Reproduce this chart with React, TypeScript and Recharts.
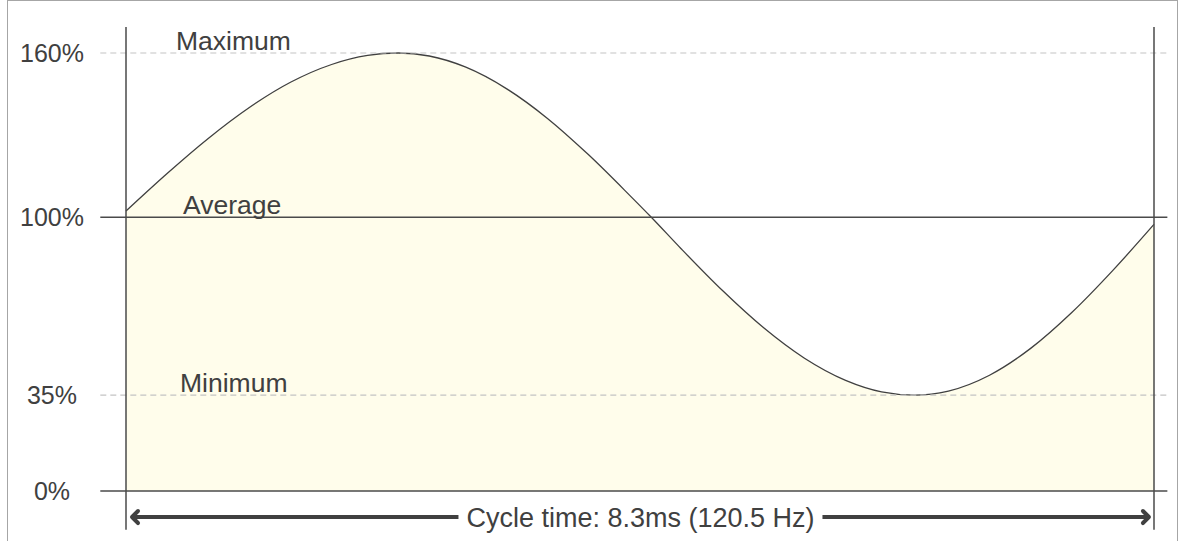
import { ComposedChart, Area, XAxis, YAxis, ReferenceLine } from 'recharts';

// position within one cycle, percent of 8.3ms
const cyclePos = [0, 4, 8, 12, 16, 20, 23.5, 26.5, 29.5, 33, 37, 41, 45, 49, 51.1, 54, 58, 62, 66, 70, 73.5, 76.7, 80, 84, 88, 92, 96, 100];
// light output relative to average
const output = [102.3, 116, 128.8, 140.1, 149.3, 155.8, 159.1, 160, 158.9, 154.9, 147, 136.1, 122.8, 108, 100, 88.5, 73.3, 59.7, 48.5, 40.4, 36.2, 35, 36.5, 42.3, 52.1, 65.2, 80.6, 97.4];
const yTicks = [0, 35, 100, 160];

const levelLabels = [
  { y: 160, text: 'Maximum', x: 176, dashed: true },
  { y: 100, text: 'Average', x: 183, dashed: false },
  { y: 35, text: 'Minimum', x: 180, dashed: true },
  { y: 0, text: '', x: 0, dashed: false },
];

const cycleText = 'Cycle time: 8.3ms (120.5 Hz)';

const data = cyclePos.map((x, i) => ({ x, v: output[i] }));

const FONT = '"Liberation Sans", Arial, sans-serif';
const INK = '#404040';

function YTick(props: any) {
  return (
    <text x={52} y={props.y} dy="0.355em" textAnchor="middle" fontSize={25} fontFamily={FONT} fill={INK}>
      {props.payload.value}%
    </text>
  );
}

function ArrowShape(props: any) {
  const { x1, x2, y1 } = props;
  const y = y1;
  const mid = (x1 + x2) / 2;
  const gap = 182;
  const c = '#404040';
  return (
    <g>
      <line x1={x1 + 2} y1={y} x2={mid - gap} y2={y} stroke={c} strokeWidth={4} />
      <line x1={mid + gap} y1={y} x2={x2 - 2} y2={y} stroke={c} strokeWidth={4} />
      <polyline points={`${x1 + 8},${y - 6} ${x1 + 2},${y} ${x1 + 8},${y + 6}`} fill="none" stroke={c} strokeWidth={4} strokeLinecap="round" strokeLinejoin="round" />
      <polyline points={`${x2 - 8},${y - 6} ${x2 - 2},${y} ${x2 - 8},${y + 6}`} fill="none" stroke={c} strokeWidth={4} strokeLinecap="round" strokeLinejoin="round" />
      <text x={mid} y={y} dy="0.355em" textAnchor="middle" fontSize={27} fontFamily={FONT} fill={INK}>
        {cycleText}
      </text>
    </g>
  );
}

export default function App() {
  return (
    <div style={{ position: 'absolute', left: 0, top: 0, width: 1180, height: 541, background: '#fff', overflow: 'hidden' }}>
      <ComposedChart width={1180} height={541} data={data} margin={{ top: 53, right: 26, bottom: 50, left: 0 }}>
        <XAxis dataKey="x" type="number" domain={[0, 100]} hide />
        <YAxis
          type="number"
          domain={[0, 160]}
          ticks={yTicks}
          interval={0}
          width={126}
          axisLine={false}
          tickLine={false}
          tick={<YTick />}
        />
        <Area
          type="monotone"
          dataKey="v"
          baseValue={0}
          fill="#fffdeb"
          fillOpacity={1}
          stroke={INK}
          strokeWidth={1.3}
          dot={false}
          activeDot={false}
          isAnimationActive={false}
        />
        {levelLabels.map((l) => (
          <ReferenceLine
            key={l.y}
            ifOverflow="visible"
            segment={[{ x: -2.5, y: l.y }, { x: 101.3, y: l.y }]}
            stroke={l.dashed ? '#c4c4c4' : '#4a4a4a'}
            strokeWidth={l.dashed ? 1.2 : 1.5}
            strokeDasharray={l.dashed ? '6 4' : undefined}
            label={(p: any) =>
              l.text ? (
                <text x={l.x} y={p.viewBox.y - 3} fontSize={26.5} fontFamily={FONT} fill={INK}>
                  {l.text}
                </text>
              ) : null
            }
          />
        ))}
        <ReferenceLine ifOverflow="visible" segment={[{ x: 0, y: 169.5 }, { x: 0, y: -14.2 }]} stroke="#4a4a4a" strokeWidth={1.5} />
        <ReferenceLine ifOverflow="visible" segment={[{ x: 100, y: 169.5 }, { x: 100, y: -14.2 }]} stroke="#4a4a4a" strokeWidth={1.5} />
        <ReferenceLine
          ifOverflow="visible"
          segment={[{ x: 0.39, y: -9.5 }, { x: 99.7, y: -9.5 }]}
          shape={(p: any) => <ArrowShape {...p} />}
        />
      </ComposedChart>
      <div
        style={{
          position: 'absolute',
          left: 7,
          top: 0,
          width: 1169,
          height: 560,
          border: '1px solid #a6a6a6',
          pointerEvents: 'none',
        }}
      />
    </div>
  );
}
